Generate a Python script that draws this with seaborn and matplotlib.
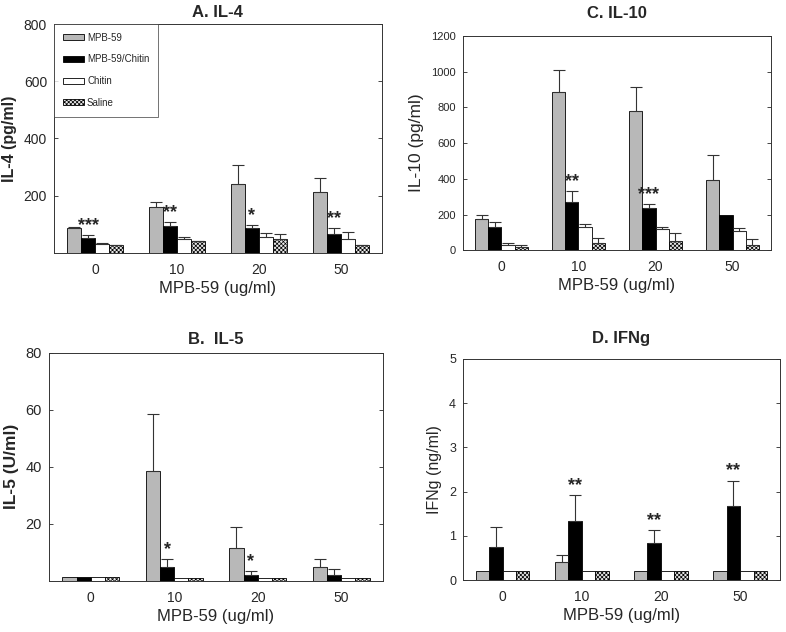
import pandas as pd
import matplotlib
matplotlib.use('Agg')
import matplotlib.pyplot as plt
import seaborn as sns

sns.set_style('white')
plt.rcParams['font.family'] = ['Liberation Sans', 'DejaVu Sans']
plt.rcParams['hatch.linewidth'] = 0.5

doses = ['0', '10', '20', '50']
groups = ['MPB-59', 'MPB-59/Chitin', 'Chitin', 'Saline']
colors = ['#b8b8b8', '#000000', '#ffffff', '#e6e6e6']

# A. IL-4 (pg/ml)
il4_mpb = [87, 160, 241, 213]
il4_mpb_chitin = [51, 95, 87, 67]
il4_chitin = [31, 47, 56, 47]
il4_saline = [28, 40, 50, 26]
il4_mpb_err = [4, 18, 66, 50]
il4_mpb_chitin_err = [12, 12, 11, 20]
il4_chitin_err = [2, 9, 14, 26]
il4_saline_err = [1, 2, 16, 2]
il4_stars = ['***', '**', '*', '**']

# B. IL-5 (U/ml)
il5_mpb = [1.5, 38.6, 11.5, 5.0]
il5_mpb_chitin = [1.5, 5.0, 2.0, 2.2]
il5_chitin = [1.2, 1.0, 1.0, 1.0]
il5_saline = [1.2, 1.0, 1.0, 1.0]
il5_mpb_err = [0, 20, 7.5, 2.5]
il5_mpb_chitin_err = [0, 2.5, 1.3, 1.8]
il5_chitin_err = [0, 0, 0, 0]
il5_saline_err = [0, 0, 0, 0]
il5_stars = ['', '*', '*', '']

# C. IL-10 (pg/ml)
il10_mpb = [177, 888, 778, 392]
il10_mpb_chitin = [132, 272, 239, 200]
il10_chitin = [32, 131, 119, 110]
il10_saline = [19, 43, 54, 32]
il10_mpb_err = [23, 123, 134, 140]
il10_mpb_chitin_err = [28, 58, 22, 0]
il10_chitin_err = [7, 18, 13, 15]
il10_saline_err = [11, 28, 45, 31]
il10_stars = ['', '**', '***', '']

# D. IFNg (ng/ml)
ifng_mpb = [0.2, 0.4, 0.2, 0.2]
ifng_mpb_chitin = [0.74, 1.34, 0.83, 1.67]
ifng_chitin = [0.2, 0.2, 0.2, 0.2]
ifng_saline = [0.2, 0.2, 0.2, 0.2]
ifng_mpb_err = [0, 0.18, 0, 0]
ifng_mpb_chitin_err = [0.46, 0.58, 0.3, 0.58]
ifng_chitin_err = [0, 0, 0, 0]
ifng_saline_err = [0, 0, 0, 0]
ifng_stars = ['', '**', '**', '**']


def make_df(series):
    rows = []
    for g, vals in zip(groups, series):
        for d, v in zip(doses, vals):
            rows.append({'dose': d, 'group': g, 'value': v})
    return pd.DataFrame(rows)


def panel(ax, series, errs, stars, title, ylabel, ymax, ticks, tickfmt,
          title_pad, ylab_bold, ylab_size, ytick_size, legend=False):
    df = make_df(series)
    sns.barplot(data=df, x='dose', y='value', hue='group', order=doses,
                hue_order=groups, palette=colors, edgecolor='black',
                linewidth=0.6, width=0.68, errorbar=None, legend=False, ax=ax)
    bars = list(ax.containers)
    for k, cont in enumerate(bars):
        for j, bar in enumerate(cont.patches):
            if groups[k] == 'Saline':
                bar.set_hatch('xxxxxxxx')
            xc = bar.get_x() + bar.get_width() / 2
            h = bar.get_height()
            e = errs[k][j]
            if e > 0:
                ax.errorbar(xc, h, yerr=[[0], [e]], fmt='none', ecolor='#333333',
                            elinewidth=0.8, capsize=4, capthick=0.8)
            if groups[k] == 'MPB-59/Chitin' and stars[j]:
                ax.text(xc, h + e + ymax * 0.005, stars[j], ha='center',
                        va='bottom', fontsize=13, fontweight='bold')
    ax.set_ylim(0, ymax)
    ax.set_xlim(-0.5, 3.5)
    ax.set_yticks(ticks)
    ax.set_yticklabels([tickfmt.format(t) for t in ticks], fontsize=ytick_size)
    ax.tick_params(axis='x', length=0, pad=7, labelsize=10)
    ax.tick_params(axis='y', direction='in', length=3, right=True, left=True,
                   width=0.6, pad=5)
    ax.set_title(title, fontsize=12, fontweight='bold', pad=title_pad)
    ax.set_xlabel('MPB-59 (ug/ml)', fontsize=12, labelpad=3)
    ax.set_ylabel(ylabel, fontsize=ylab_size,
                  fontweight='bold' if ylab_bold else 'normal', labelpad=5)
    for sp in ax.spines.values():
        sp.set_linewidth(0.7)
        sp.set_color('#333333')
    if legend:
        leg = ax.legend(bars, groups, loc='upper left', fontsize=7,
                        frameon=True, fancybox=False, edgecolor='#333333',
                        borderaxespad=0, handlelength=2.2, handleheight=0.6,
                        labelspacing=1.2, borderpad=0.9, handletextpad=0.3)
        leg.get_frame().set_linewidth(0.6)


fig = plt.figure(figsize=(7.86, 6.32), dpi=100)
axA = fig.add_axes([0.0687, 0.600, 0.417, 0.362])
axC = fig.add_axes([0.589, 0.604, 0.392, 0.339])
axB = fig.add_axes([0.0623, 0.081, 0.425, 0.361])
axD = fig.add_axes([0.589, 0.082, 0.403, 0.350])

panel(axA, [il4_mpb, il4_mpb_chitin, il4_chitin, il4_saline],
      [il4_mpb_err, il4_mpb_chitin_err, il4_chitin_err, il4_saline_err],
      il4_stars, 'A. IL-4', 'IL-4 (pg/ml)', 800, [200, 400, 600, 800], '{:d}',
      5, True, 11.5, 10, legend=True)
panel(axB, [il5_mpb, il5_mpb_chitin, il5_chitin, il5_saline],
      [il5_mpb_err, il5_mpb_chitin_err, il5_chitin_err, il5_saline_err],
      il5_stars, 'B.  IL-5', 'IL-5 (U/ml)', 80, [20, 40, 60, 80], '{:d}',
      6, True, 12.5, 10.5)
panel(axC, [il10_mpb, il10_mpb_chitin, il10_chitin, il10_saline],
      [il10_mpb_err, il10_mpb_chitin_err, il10_chitin_err, il10_saline_err],
      il10_stars, 'C. IL-10', 'IL-10 (pg/ml)', 1200,
      [0, 200, 400, 600, 800, 1000, 1200], '{:d}', 13, False, 12.5, 8)
panel(axD, [ifng_mpb, ifng_mpb_chitin, ifng_chitin, ifng_saline],
      [ifng_mpb_err, ifng_mpb_chitin_err, ifng_chitin_err, ifng_saline_err],
      ifng_stars, 'D. IFNg', 'IFNg (ng/ml)', 5, [0, 1, 2, 3, 4, 5], '{:d}',
      11.5, False, 11.5, 9)

fig.savefig('out.png', dpi=100)
